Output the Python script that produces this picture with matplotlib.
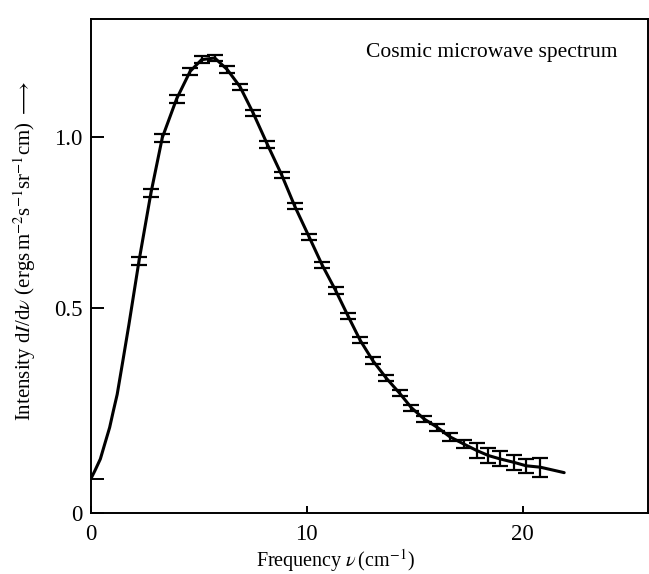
import numpy as np
import matplotlib
matplotlib.use('Agg')
import matplotlib.pyplot as plt

plt.rcParams['font.family'] = ['Liberation Serif', 'DejaVu Serif']
plt.rcParams['mathtext.fontset'] = 'stix'

freq = [2.23, 2.78, 3.31, 3.97, 4.60, 5.13, 5.74, 6.32, 6.91, 7.52, 8.18,
        8.84, 9.45, 10.11, 10.72, 11.34, 11.91, 12.48, 13.06, 13.68, 14.31,
        14.85, 15.44, 16.04, 16.63, 17.27, 17.87, 18.42, 18.97, 19.61, 20.17,
        20.82]
intensity = [0.637, 0.835, 0.998, 1.111, 1.192, 1.226, 1.231, 1.197, 1.147,
             1.070, 0.978, 0.889, 0.797, 0.708, 0.625, 0.551, 0.477, 0.405,
             0.346, 0.295, 0.250, 0.208, 0.175, 0.151, 0.123, 0.102, 0.083,
             0.068, 0.058, 0.048, 0.038, 0.034]
err = [0.012, 0.012, 0.012, 0.012, 0.010, 0.010, 0.010, 0.010, 0.009, 0.009,
       0.009, 0.009, 0.009, 0.009, 0.009, 0.009, 0.009, 0.009, 0.009, 0.009,
       0.009, 0.009, 0.010, 0.010, 0.011, 0.012, 0.021, 0.022, 0.022, 0.021,
       0.021, 0.028]

# fitted curve
rise_x = [0, 0.19, 0.44, 0.64, 0.87, 1.04, 1.22, 1.48, 1.76]
rise_y = [0, 0.024, 0.058, 0.101, 0.150, 0.198, 0.247, 0.344, 0.450]
curve_x = rise_x + freq + [21.93]
curve_y = rise_y + intensity + [0.018]

x_ticks = [0, 10, 20]
x_ticklabels = ['0', '10', '20']
y_ticks = [-0.1, 0, 0.5, 1.0]
y_ticklabels = ['0', '', '0.5', '1.0']

fig = plt.figure(figsize=(6.49, 5.74), dpi=100)
ax = fig.add_axes([0.140, 0.1063, 0.858, 0.8606])

ax.plot(curve_x, curve_y, color='k', lw=2.2, solid_joinstyle='round',
        solid_capstyle='round')
ax.errorbar(freq, intensity, yerr=err, fmt='none', ecolor='k',
            elinewidth=1.6, capsize=5.5, capthick=1.6)

ax.set_xlim(0, 25.8)
ax.set_ylim(-0.1, 1.345)
ax.set_xticks(x_ticks)
ax.set_xticklabels(x_ticklabels)
ax.set_yticks(y_ticks)
ax.set_yticklabels(y_ticklabels)
ax.tick_params(direction='in', labelsize=16.5, width=1.4, color='k')
ax.tick_params(axis='y', length=9, pad=6)
ax.tick_params(axis='x', length=5, pad=8)
for s in ax.spines.values():
    s.set_linewidth(1.4)

ax.set_xlabel(r'Frequency $\nu\,$(cm$^{-1}$)', fontsize=14.5)
ax.xaxis.set_label_coords(0.44, -0.07)
ax.set_ylabel(r'Intensity d$I$/d$\nu$ (ergs$\,$m$^{-2}$s$^{-1}$sr$^{-1}$cm) $\longrightarrow$',
              fontsize=15)
ax.yaxis.set_label_coords(-0.095, 0.53)

ax.text(0.946, 0.933, 'Cosmic microwave spectrum', transform=ax.transAxes,
        ha='right', va='center', fontsize=15.5)

plt.savefig('out.png', dpi=100)
